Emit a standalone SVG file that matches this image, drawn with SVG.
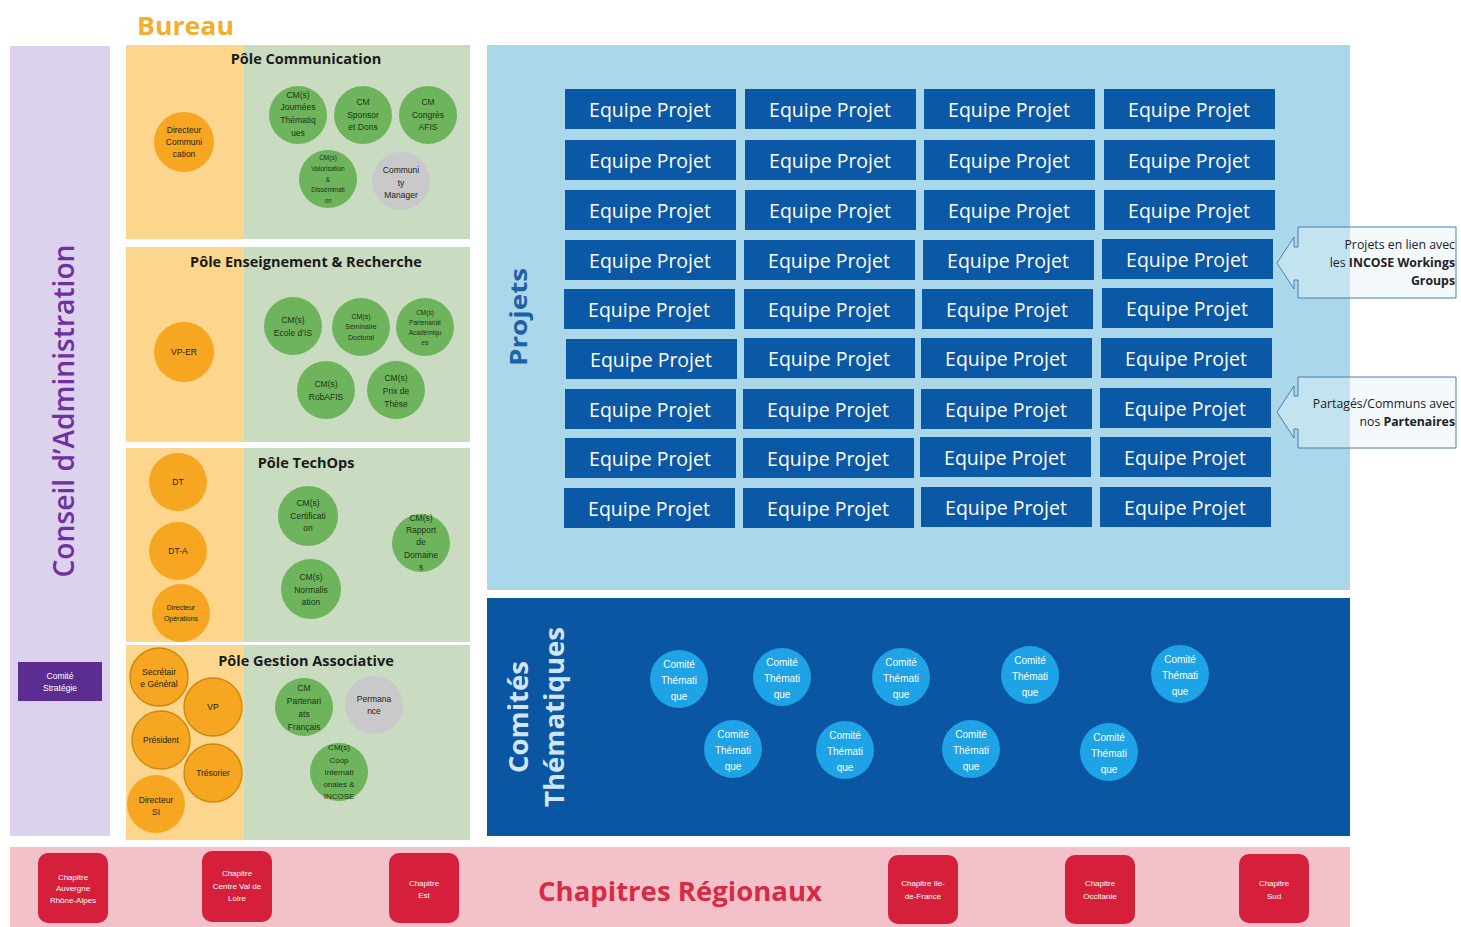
<svg xmlns="http://www.w3.org/2000/svg" width="1461" height="927" viewBox="0 0 1461 927">
<style>
.ct{font-family:"Liberation Sans",Arial,sans-serif;font-size:8.5px;fill:#241e0c;text-anchor:middle}
.cs{font-size:6.5px}
.cg{fill:#1a3413}
.or{fill:#f6a620}
.or2{fill:#f6a620;stroke:#c98a12;stroke-width:1.4}
.gr{fill:#6db45c}
.gy{fill:#c9c9cc}
.ttl{font-family:"Open Sans",sans-serif;font-weight:700;font-size:14.5px;fill:#1a1a1a;text-anchor:middle}
.ep rect{fill:#0b58a6}
.ep text{font-family:"Open Sans",sans-serif;font-size:19.5px;fill:#ffffff;text-anchor:middle}
.cm circle{fill:#1ea3e6}
.cm text{font-family:"Liberation Sans",Arial,sans-serif;font-size:10px;fill:#ffffff;text-anchor:middle}
.ch rect{fill:#d61f3b}
.ch text{font-family:"Liberation Sans",Arial,sans-serif;font-size:8px;fill:#ffffff;text-anchor:middle}
.co{fill:#e4f2f8;fill-opacity:0.45;stroke:#4a7fae;stroke-width:1}
.cot{font-family:"Open Sans",sans-serif;font-size:12.3px;fill:#222;text-anchor:end}
</style>

<!-- Conseil d'Administration -->
<g id="conseil">
<rect x="10" y="46" width="100" height="790" fill="#dcd2ee"/>
<text x="74" y="411" transform="rotate(-90 74 411)" font-family="Open Sans, sans-serif" font-weight="600" font-size="29" fill="#7030a0" text-anchor="middle" textLength="333" lengthAdjust="spacingAndGlyphs">Conseil d’Administration</text>
</g>
<g id="comite-strategie">
<rect x="18" y="662" width="84" height="39" fill="#5c2d91"/>
<text x="60" y="679" font-family="Liberation Sans, Arial, sans-serif" font-size="8.5" fill="#ffffff" text-anchor="middle">Comité</text>
<text x="60" y="691" font-family="Liberation Sans, Arial, sans-serif" font-size="8.5" fill="#ffffff" text-anchor="middle">Stratégie</text>
</g>

<!-- Bureau -->
<g id="bureau-title">
<text x="137" y="35" font-family="Open Sans, sans-serif" font-weight="700" font-size="25" fill="#f2ae2e" textLength="97" lengthAdjust="spacingAndGlyphs">Bureau</text>
</g>

<!-- Pôle Communication -->
<g id="pole-communication">
<rect x="126" y="45" width="118" height="194" fill="#fdd68d"/>
<rect x="244" y="45" width="226" height="194" fill="#c9dbc1"/>
<text class="ttl" x="306" y="64">Pôle Communication</text>
<g id="dir-com"><circle class="or" cx="184" cy="142" r="30"/><text class="ct"><tspan x="184" y="133">Directeur</tspan><tspan x="184" y="145">Communi</tspan><tspan x="184" y="157">cation</tspan></text></g>
<g id="cm-journees"><circle class="gr" cx="298" cy="115" r="29"/><text class="ct cg"><tspan x="298" y="98">CM(s)</tspan><tspan x="298" y="110">Journées</tspan><tspan x="298" y="123">Thématiq</tspan><tspan x="298" y="136">ues</tspan></text></g>
<g id="cm-sponsor"><circle class="gr" cx="363" cy="115" r="29"/><text class="ct cg"><tspan x="363" y="105">CM</tspan><tspan x="363" y="118">Sponsor</tspan><tspan x="363" y="130">et Dons</tspan></text></g>
<g id="cm-congres"><circle class="gr" cx="428" cy="115" r="29"/><text class="ct cg"><tspan x="428" y="105">CM</tspan><tspan x="428" y="118">Congrès</tspan><tspan x="428" y="130">AFIS</tspan></text></g>
<g id="cm-valorisation"><circle class="gr" cx="328" cy="179" r="29"/><text class="ct cg cs"><tspan x="328" y="160">CM(s)</tspan><tspan x="328" y="171">Valorisation</tspan><tspan x="328" y="182">&amp;</tspan><tspan x="328" y="192">Disséminati</tspan><tspan x="328" y="203">on</tspan></text></g>
<g id="community-manager"><circle class="gy" cx="401" cy="181" r="29"/><text class="ct"><tspan x="401" y="173">Communi</tspan><tspan x="401" y="186">ty</tspan><tspan x="401" y="198">Manager</tspan></text></g>
</g>

<!-- Pôle Enseignement & Recherche -->
<g id="pole-enseignement">
<rect x="126" y="247" width="118" height="195" fill="#fdd68d"/>
<rect x="244" y="247" width="226" height="195" fill="#c9dbc1"/>
<text class="ttl" x="306" y="267">Pôle Enseignement &amp; Recherche</text>
<g id="vp-er"><circle class="or" cx="184" cy="352" r="30"/><text class="ct" x="184" y="355">VP-ER</text></g>
<g id="cm-ecole"><circle class="gr" cx="293" cy="326" r="29"/><text class="ct cg"><tspan x="293" y="323">CM(s)</tspan><tspan x="293" y="336">Ecole d’IS</tspan></text></g>
<g id="cm-seminaire"><circle class="gr" cx="361" cy="327" r="29"/><text class="ct cg" style="font-size:7px"><tspan x="361" y="319">CM(s)</tspan><tspan x="361" y="329">Séminaire</tspan><tspan x="361" y="340">Doctoral</tspan></text></g>
<g id="cm-partenariat-acad"><circle class="gr" cx="425" cy="327" r="29"/><text class="ct cg cs"><tspan x="425" y="315">CM(s)</tspan><tspan x="425" y="325">Partenariat</tspan><tspan x="425" y="335">Académiqu</tspan><tspan x="425" y="345">es</tspan></text></g>
<g id="cm-robafis"><circle class="gr" cx="326" cy="390" r="29"/><text class="ct cg"><tspan x="326" y="387">CM(s)</tspan><tspan x="326" y="400">RobAFIS</tspan></text></g>
<g id="cm-these"><circle class="gr" cx="396" cy="390" r="29"/><text class="ct cg"><tspan x="396" y="381">CM(s)</tspan><tspan x="396" y="394">Prix de</tspan><tspan x="396" y="407">Thèse</tspan></text></g>
</g>

<!-- Pôle TechOps -->
<g id="pole-techops">
<rect x="126" y="448" width="118" height="194" fill="#fdd68d"/>
<rect x="244" y="448" width="226" height="194" fill="#c9dbc1"/>
<text class="ttl" x="306" y="468">Pôle TechOps</text>
<g id="dt"><circle class="or" cx="178" cy="482" r="29"/><text class="ct" x="178" y="485">DT</text></g>
<g id="dt-a"><circle class="or" cx="178" cy="551" r="29"/><text class="ct" x="178" y="554">DT-A</text></g>
<g id="dir-ops"><circle class="or" cx="181" cy="613" r="29"/><text class="ct" style="font-size:7px"><tspan x="181" y="610">Directeur</tspan><tspan x="181" y="621">Opérations</tspan></text></g>
<g id="cm-certif"><circle class="gr" cx="308" cy="516" r="30"/><text class="ct cg"><tspan x="308" y="506">CM(s)</tspan><tspan x="308" y="519">Certificati</tspan><tspan x="308" y="531">on</tspan></text></g>
<g id="cm-rapport"><circle class="gr" cx="421" cy="543" r="29"/><text class="ct cg"><tspan x="421" y="521">CM(s)</tspan><tspan x="421" y="533">Rapport</tspan><tspan x="421" y="545">de</tspan><tspan x="421" y="558">Domaine</tspan><tspan x="421" y="570">s</tspan></text></g>
<g id="cm-normal"><circle class="gr" cx="311" cy="589" r="30"/><text class="ct cg"><tspan x="311" y="580">CM(s)</tspan><tspan x="311" y="593">Normalis</tspan><tspan x="311" y="605">ation</tspan></text></g>
</g>

<!-- Pôle Gestion Associative -->
<g id="pole-gestion">
<rect x="126" y="645" width="118" height="195" fill="#fdd68d"/>
<rect x="244" y="645" width="226" height="195" fill="#c9dbc1"/>
<text class="ttl" x="306" y="666">Pôle Gestion Associative</text>
<g id="secretaire"><circle class="or2" cx="159" cy="677" r="29"/><text class="ct"><tspan x="159" y="675">Secrétair</tspan><tspan x="159" y="687">e Général</tspan></text></g>
<g id="vp"><circle class="or2" cx="213" cy="707" r="29"/><text class="ct" x="213" y="710">VP</text></g>
<g id="president"><circle class="or2" cx="161" cy="740" r="29"/><text class="ct" x="161" y="743">Président</text></g>
<g id="tresorier"><circle class="or2" cx="213" cy="773" r="29"/><text class="ct" x="213" y="776">Trésorier</text></g>
<g id="dir-si"><circle class="or" cx="156" cy="804" r="29"/><text class="ct"><tspan x="156" y="803">Directeur</tspan><tspan x="156" y="815">SI</tspan></text></g>
<g id="cm-partenariats-fr"><circle class="gr" cx="304" cy="707" r="29"/><text class="ct cg"><tspan x="304" y="691">CM</tspan><tspan x="304" y="704">Partenari</tspan><tspan x="304" y="717">ats</tspan><tspan x="304" y="730">Français</tspan></text></g>
<g id="permanance"><circle class="gy" cx="374" cy="705" r="29"/><text class="ct"><tspan x="374" y="702">Permana</tspan><tspan x="374" y="714">nce</tspan></text></g>
<g id="cm-coop"><circle class="gr" cx="339" cy="772" r="29"/><text class="ct cg" style="font-size:8px"><tspan x="339" y="750">CM(s)</tspan><tspan x="339" y="763">Coop</tspan><tspan x="339" y="775">Internati</tspan><tspan x="339" y="787">onales &amp;</tspan><tspan x="339" y="799">INCOSE</tspan></text></g>
</g>

<!-- Projets -->
<g id="projets">
<rect x="487" y="45" width="863" height="545" fill="#aad8ea"/>
<text x="527" y="317" transform="rotate(-90 527 317)" font-family="Open Sans, sans-serif" font-weight="700" font-size="24" fill="#2060a8" text-anchor="middle" textLength="98" lengthAdjust="spacingAndGlyphs">Projets</text>
</g>
<g id="equipes-projet" class="ep">
<g id="ep-1-1"><rect x="565" y="89" width="171" height="40"/><text x="650" y="117">Equipe Projet</text></g>
<g id="ep-1-2"><rect x="745" y="89" width="171" height="40"/><text x="830" y="117">Equipe Projet</text></g>
<g id="ep-1-3"><rect x="924" y="89" width="171" height="40"/><text x="1009" y="117">Equipe Projet</text></g>
<g id="ep-1-4"><rect x="1104" y="89" width="171" height="40"/><text x="1189" y="117">Equipe Projet</text></g>
<g id="ep-2-1"><rect x="565" y="140" width="171" height="40"/><text x="650" y="168">Equipe Projet</text></g>
<g id="ep-2-2"><rect x="745" y="140" width="171" height="40"/><text x="830" y="168">Equipe Projet</text></g>
<g id="ep-2-3"><rect x="924" y="140" width="171" height="40"/><text x="1009" y="168">Equipe Projet</text></g>
<g id="ep-2-4"><rect x="1104" y="140" width="171" height="40"/><text x="1189" y="168">Equipe Projet</text></g>
<g id="ep-3-1"><rect x="565" y="190" width="171" height="40"/><text x="650" y="218">Equipe Projet</text></g>
<g id="ep-3-2"><rect x="745" y="190" width="171" height="40"/><text x="830" y="218">Equipe Projet</text></g>
<g id="ep-3-3"><rect x="924" y="190" width="171" height="40"/><text x="1009" y="218">Equipe Projet</text></g>
<g id="ep-3-4"><rect x="1104" y="190" width="171" height="40"/><text x="1189" y="218">Equipe Projet</text></g>
<g id="ep-4-1"><rect x="565" y="240" width="171" height="40"/><text x="650" y="268">Equipe Projet</text></g>
<g id="ep-4-2"><rect x="744" y="240" width="171" height="40"/><text x="829" y="268">Equipe Projet</text></g>
<g id="ep-4-3"><rect x="923" y="240" width="171" height="40"/><text x="1008" y="268">Equipe Projet</text></g>
<g id="ep-4-4"><rect x="1102" y="239" width="171" height="40"/><text x="1187" y="267">Equipe Projet</text></g>
<g id="ep-5-1"><rect x="564" y="289" width="171" height="40"/><text x="649" y="317">Equipe Projet</text></g>
<g id="ep-5-2"><rect x="744" y="289" width="171" height="40"/><text x="829" y="317">Equipe Projet</text></g>
<g id="ep-5-3"><rect x="922" y="289" width="171" height="40"/><text x="1007" y="317">Equipe Projet</text></g>
<g id="ep-5-4"><rect x="1102" y="288" width="171" height="40"/><text x="1187" y="316">Equipe Projet</text></g>
<g id="ep-6-1"><rect x="566" y="339" width="171" height="40"/><text x="651" y="367">Equipe Projet</text></g>
<g id="ep-6-2"><rect x="744" y="338" width="171" height="40"/><text x="829" y="366">Equipe Projet</text></g>
<g id="ep-6-3"><rect x="921" y="338" width="171" height="40"/><text x="1006" y="366">Equipe Projet</text></g>
<g id="ep-6-4"><rect x="1101" y="338" width="171" height="40"/><text x="1186" y="366">Equipe Projet</text></g>
<g id="ep-7-1"><rect x="565" y="389" width="171" height="40"/><text x="650" y="417">Equipe Projet</text></g>
<g id="ep-7-2"><rect x="743" y="389" width="171" height="40"/><text x="828" y="417">Equipe Projet</text></g>
<g id="ep-7-3"><rect x="921" y="389" width="171" height="40"/><text x="1006" y="417">Equipe Projet</text></g>
<g id="ep-7-4"><rect x="1100" y="388" width="171" height="40"/><text x="1185" y="416">Equipe Projet</text></g>
<g id="ep-8-1"><rect x="565" y="438" width="171" height="40"/><text x="650" y="466">Equipe Projet</text></g>
<g id="ep-8-2"><rect x="743" y="438" width="171" height="40"/><text x="828" y="466">Equipe Projet</text></g>
<g id="ep-8-3"><rect x="920" y="437" width="171" height="40"/><text x="1005" y="465">Equipe Projet</text></g>
<g id="ep-8-4"><rect x="1100" y="437" width="171" height="40"/><text x="1185" y="465">Equipe Projet</text></g>
<g id="ep-9-1"><rect x="564" y="488" width="171" height="40"/><text x="649" y="516">Equipe Projet</text></g>
<g id="ep-9-2"><rect x="743" y="488" width="171" height="40"/><text x="828" y="516">Equipe Projet</text></g>
<g id="ep-9-3"><rect x="921" y="487" width="171" height="40"/><text x="1006" y="515">Equipe Projet</text></g>
<g id="ep-9-4"><rect x="1100" y="487" width="171" height="40"/><text x="1185" y="515">Equipe Projet</text></g>
</g>

<!-- Callouts -->
<g id="callout-incose">
<path class="co" d="M1298,227 H1456 V298 H1298 V280 H1294 V289 L1277,263 L1294,237 V247 H1298 Z"/>
<text class="cot" x="1455" y="249">Projets en lien avec</text>
<text class="cot" x="1455" y="267">les <tspan font-weight="700">INCOSE Workings</tspan></text>
<text class="cot" x="1455" y="285" font-weight="700">Groups</text>
</g>
<g id="callout-partenaires">
<path class="co" d="M1298,377 H1456 V448 H1298 V429 H1294 V438 L1277,412 L1294,386 V396 H1298 Z"/>
<text class="cot" x="1455" y="408">Partagés/Communs avec</text>
<text class="cot" x="1455" y="426">nos <tspan font-weight="700">Partenaires</tspan></text>
</g>

<!-- Comités Thématiques -->
<g id="comites">
<rect x="487" y="598" width="863" height="238" fill="#0b56a3"/>
<text x="528" y="717" transform="rotate(-90 528 717)" font-family="Open Sans, sans-serif" font-weight="700" font-size="26" fill="#d2e5f6" text-anchor="middle" textLength="112" lengthAdjust="spacingAndGlyphs">Comités</text>
<text x="564" y="717" transform="rotate(-90 564 717)" font-family="Open Sans, sans-serif" font-weight="700" font-size="26" fill="#d2e5f6" text-anchor="middle" textLength="180" lengthAdjust="spacingAndGlyphs">Thématiques</text>
</g>
<g id="comites-thematiques" class="cm">
<g id="ct-1"><circle cx="679" cy="679" r="29"/><text><tspan x="679" y="668">Comité</tspan><tspan x="679" y="684">Thémati</tspan><tspan x="679" y="700">que</tspan></text></g>
<g id="ct-2"><circle cx="782" cy="677" r="29"/><text><tspan x="782" y="666">Comité</tspan><tspan x="782" y="682">Thémati</tspan><tspan x="782" y="698">que</tspan></text></g>
<g id="ct-3"><circle cx="901" cy="677" r="29"/><text><tspan x="901" y="666">Comité</tspan><tspan x="901" y="682">Thémati</tspan><tspan x="901" y="698">que</tspan></text></g>
<g id="ct-4"><circle cx="1030" cy="675" r="29"/><text><tspan x="1030" y="664">Comité</tspan><tspan x="1030" y="680">Thémati</tspan><tspan x="1030" y="696">que</tspan></text></g>
<g id="ct-5"><circle cx="1180" cy="674" r="29"/><text><tspan x="1180" y="663">Comité</tspan><tspan x="1180" y="679">Thémati</tspan><tspan x="1180" y="695">que</tspan></text></g>
<g id="ct-6"><circle cx="733" cy="749" r="29"/><text><tspan x="733" y="738">Comité</tspan><tspan x="733" y="754">Thémati</tspan><tspan x="733" y="770">que</tspan></text></g>
<g id="ct-7"><circle cx="845" cy="750" r="29"/><text><tspan x="845" y="739">Comité</tspan><tspan x="845" y="755">Thémati</tspan><tspan x="845" y="771">que</tspan></text></g>
<g id="ct-8"><circle cx="971" cy="749" r="29"/><text><tspan x="971" y="738">Comité</tspan><tspan x="971" y="754">Thémati</tspan><tspan x="971" y="770">que</tspan></text></g>
<g id="ct-9"><circle cx="1109" cy="752" r="29"/><text><tspan x="1109" y="741">Comité</tspan><tspan x="1109" y="757">Thémati</tspan><tspan x="1109" y="773">que</tspan></text></g>
</g>

<!-- Chapitres Régionaux -->
<g id="chapitres">
<rect x="10" y="847" width="1340" height="80" fill="#f2c1c9"/>
<text x="680" y="901" font-family="Open Sans, sans-serif" font-weight="700" font-size="27" fill="#d82a44" text-anchor="middle" textLength="284" lengthAdjust="spacingAndGlyphs">Chapitres Régionaux</text>
</g>
<g id="chapitres-boxes" class="ch">
<g id="ch-ara"><rect x="38" y="853" width="70" height="70" rx="10"/><text><tspan x="73" y="880">Chapitre</tspan><tspan x="73" y="891">Auvergne</tspan><tspan x="73" y="903">Rhône-Alpes</tspan></text></g>
<g id="ch-cvl"><rect x="202" y="851" width="70" height="71" rx="10"/><text><tspan x="237" y="876">Chapitre</tspan><tspan x="237" y="889">Centre Val de</tspan><tspan x="237" y="901">Loire</tspan></text></g>
<g id="ch-est"><rect x="389" y="853" width="70" height="70" rx="10"/><text><tspan x="424" y="886">Chapitre</tspan><tspan x="424" y="898">Est</tspan></text></g>
<g id="ch-idf"><rect x="888" y="855" width="70" height="69" rx="10"/><text><tspan x="923" y="886">Chapitre Ile-</tspan><tspan x="923" y="899">de-France</tspan></text></g>
<g id="ch-occ"><rect x="1065" y="855" width="70" height="69" rx="10"/><text><tspan x="1100" y="886">Chapitre</tspan><tspan x="1100" y="899">Occitanie</tspan></text></g>
<g id="ch-sud"><rect x="1239" y="854" width="70" height="69" rx="10"/><text><tspan x="1274" y="886">Chapitre</tspan><tspan x="1274" y="899">Sud</tspan></text></g>
</g>
<g id="connectors"/>
</svg>
